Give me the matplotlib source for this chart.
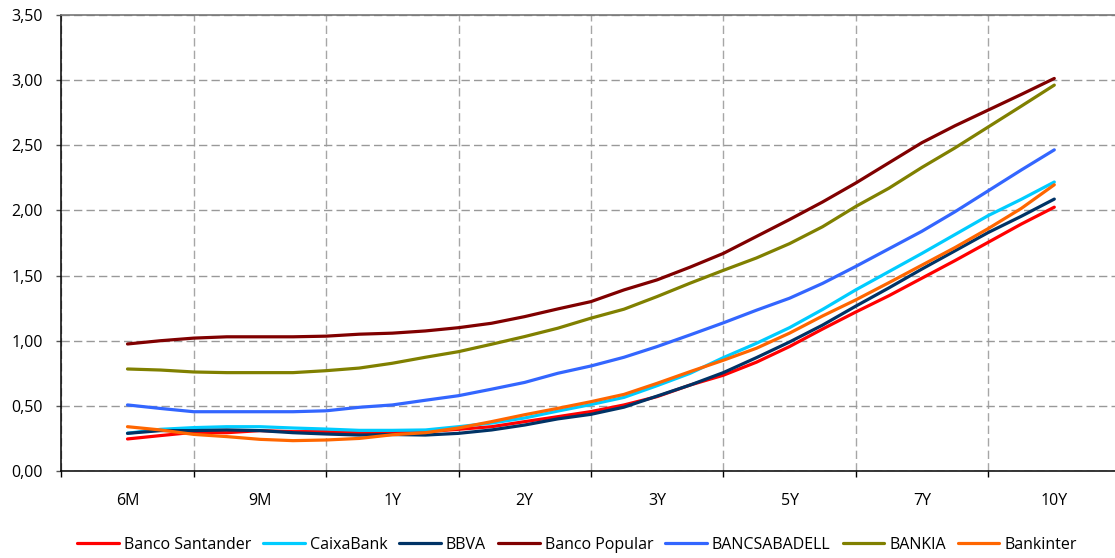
import numpy as np
import matplotlib
matplotlib.use("Agg")
import matplotlib.pyplot as plt
from matplotlib.ticker import FuncFormatter, MultipleLocator

plt.rcParams['font.family'] = ['Open Sans', 'DejaVu Sans']

tenors = ["6M", "9M", "1Y", "2Y", "3Y", "5Y", "7Y", "10Y"]
steps_per_tenor = 4  # readings taken every quarter of a tenor band

series_names = ["Banco Santander", "CaixaBank", "BBVA", "Banco Popular",
                "BANCSABADELL", "BANKIA", "Bankinter"]

santander = [0.246, 0.272, 0.297, 0.294, 0.310, 0.302, 0.302, 0.294, 0.294,
             0.302, 0.320, 0.340, 0.379, 0.417, 0.456, 0.507, 0.571, 0.660,
             0.735, 0.835, 0.955, 1.090, 1.220, 1.345, 1.480, 1.615, 1.755,
             1.895, 2.025]
caixabank = [0.290, 0.320, 0.333, 0.340, 0.340, 0.330, 0.322, 0.312, 0.312,
             0.315, 0.340, 0.368, 0.407, 0.460, 0.510, 0.565, 0.655, 0.750,
             0.870, 0.980, 1.100, 1.240, 1.390, 1.530, 1.670, 1.815, 1.960,
             2.085, 2.218]
bbva = [0.289, 0.310, 0.310, 0.315, 0.310, 0.294, 0.284, 0.276, 0.280,
        0.276, 0.289, 0.315, 0.353, 0.400, 0.435, 0.490, 0.575, 0.660,
        0.755, 0.870, 0.990, 1.120, 1.265, 1.405, 1.550, 1.690, 1.830,
        1.955, 2.087]
popular = [0.975, 1.000, 1.020, 1.030, 1.030, 1.030, 1.035, 1.050, 1.058,
           1.075, 1.100, 1.134, 1.185, 1.244, 1.300, 1.390, 1.467, 1.565,
           1.670, 1.800, 1.930, 2.065, 2.210, 2.365, 2.520, 2.650, 2.770,
           2.890, 3.013]
sabadell = [0.507, 0.480, 0.455, 0.455, 0.455, 0.455, 0.462, 0.489, 0.507,
            0.543, 0.578, 0.628, 0.680, 0.750, 0.806, 0.873, 0.955, 1.045,
            1.137, 1.234, 1.326, 1.440, 1.570, 1.705, 1.840, 1.990, 2.150,
            2.310, 2.465]
bankia = [0.783, 0.775, 0.760, 0.755, 0.755, 0.755, 0.770, 0.790, 0.827,
          0.873, 0.916, 0.973, 1.032, 1.096, 1.173, 1.242, 1.339, 1.442,
          1.540, 1.635, 1.745, 1.875, 2.030, 2.170, 2.330, 2.480, 2.640,
          2.800, 2.962]
bankinter = [0.340, 0.315, 0.281, 0.264, 0.243, 0.233, 0.238, 0.250, 0.278,
             0.294, 0.330, 0.379, 0.432, 0.481, 0.532, 0.588, 0.673, 0.763,
             0.850, 0.942, 1.058, 1.190, 1.313, 1.445, 1.580, 1.715, 1.860,
             2.015, 2.197]

all_series = [santander, caixabank, bbva, popular, sabadell, bankia, bankinter]
colors = ["#FF0000", "#00CCFF", "#003366", "#800000", "#3366FF", "#808000", "#FF6600"]

FS = 11.5

fig = plt.figure(figsize=(11.15, 5.58), dpi=100)
ax = fig.add_axes([61.3 / 1115, 87 / 558, (1120.5 - 61.3) / 1115, 456 / 558])

x = np.arange(len(santander)) / steps_per_tenor + 0.5
for name, vals, c in zip(series_names, all_series, colors):
    ax.plot(x, vals, color=c, lw=2.3, label=name, solid_capstyle='round', zorder=3)

ax.set_xlim(0, len(tenors))
ax.set_ylim(0, 3.5)
ax.set_xticks(np.arange(len(tenors) + 1))
ax.set_xticklabels([])
ax.set_xticks(np.arange(len(tenors)) + 0.5, minor=True)
ax.set_xticklabels(tenors, minor=True)
ax.tick_params(axis='x', which='major', direction='out', length=4.5, width=1, color='black')
ax.tick_params(axis='x', which='minor', length=0, pad=16, labelsize=FS)
ax.yaxis.set_major_locator(MultipleLocator(0.5))
ax.yaxis.set_major_formatter(FuncFormatter(lambda v, p: f"{v:.2f}".replace('.', ',')))
ax.tick_params(axis='y', direction='out', length=3.3, width=1, color='#555555', pad=10, labelsize=FS)

ax.grid(True, axis='x', which='major', color='#a6a6a6', lw=1.0, linestyle=(0, (6, 3)))
ax.grid(True, axis='y', which='major', color='#999999', lw=1.0, linestyle=(0, (6, 3)))
ax.set_axisbelow(True)

for s in ['left', 'bottom']:
    ax.spines[s].set_color('black')
    ax.spines[s].set_linewidth(1.1)
ax.spines['top'].set_color('#777777')
ax.spines['top'].set_linewidth(1.2)
ax.spines['right'].set_visible(False)

fig.legend(loc='center', bbox_to_anchor=(577 / 1115, 13 / 558), ncol=7, frameon=False,
           fontsize=FS, handlelength=2.6, handletextpad=0.31, columnspacing=0.76,
           borderaxespad=0, borderpad=0)

fig.savefig("out.png", dpi=100)
